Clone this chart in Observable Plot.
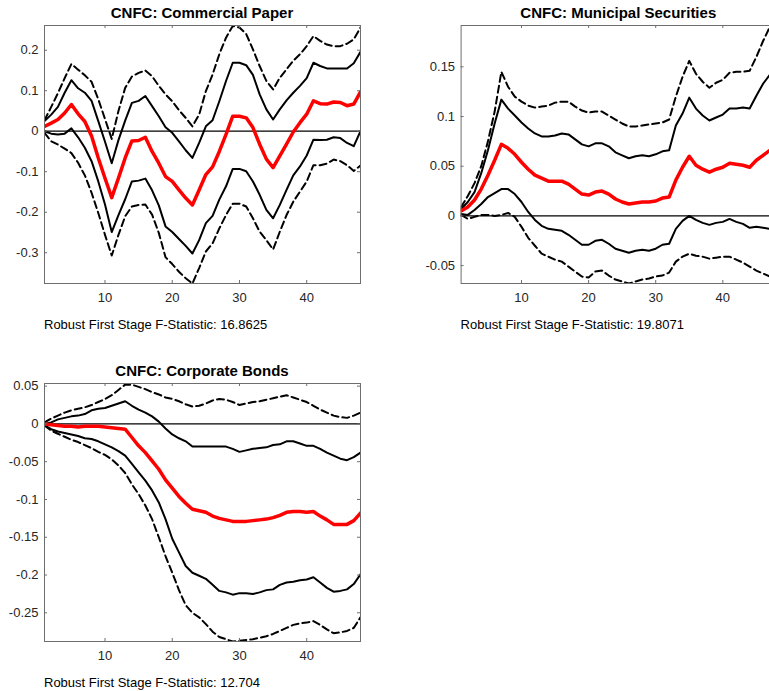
<!DOCTYPE html>
<html><head><meta charset="utf-8">
<script src="https://cdn.jsdelivr.net/npm/d3@7"></script>
<script src="https://cdn.jsdelivr.net/npm/@observablehq/plot@0.6"></script>
<style>
html,body{margin:0;padding:0;overflow:hidden;background:#fff;width:769px;height:691px;}
#root{position:relative;width:769px;height:691px;overflow:hidden;font-family:"Liberation Sans",Arial,Helvetica,sans-serif;background:#fff;}
.panel{position:absolute;}
.title{position:absolute;font-weight:bold;font-size:15px;color:#000;white-space:nowrap;transform:translateX(-50%);line-height:1;}
.cap{position:absolute;font-size:13px;color:#000;white-space:nowrap;line-height:1;}
</style></head><body><div id="root"></div>
<script>
const horizons = [1,2,3,4,5,6,7,8,9,10,11,12,13,14,15,16,17,18,19,20,21,22,23,24,25,26,27,28,29,30,31,32,33,34,35,36,37,38,39,40,41,42,43,44,45,46,47,48];
const xTicks = [10, 20, 30, 40];

// Panel 1: Commercial Paper
const cpTitle = "CNFC: Commercial Paper";
const cpCaption = "Robust First Stage F-Statistic: 16.8625";
const cpYTicks = [0.2, 0.1, 0, -0.1, -0.2, -0.3];
const cpMid = [0.012,0.02,0.029,0.045,0.066,0.043,0.024,-0.012,-0.066,-0.116,-0.164,-0.116,-0.066,-0.024,-0.023,-0.015,-0.05,-0.079,-0.112,-0.124,-0.145,-0.165,-0.182,-0.145,-0.107,-0.088,-0.05,-0.008,0.037,0.037,0.033,0.009,-0.032,-0.069,-0.09,-0.061,-0.032,-0.002,0.021,0.042,0.075,0.068,0.067,0.072,0.071,0.063,0.067,0.097];
const cpUp68 = [0.025,0.041,0.06,0.095,0.126,0.106,0.095,0.075,0.025,-0.026,-0.079,-0.022,0.026,0.07,0.075,0.087,0.062,0.037,0.01,-0.004,-0.025,-0.047,-0.066,-0.029,0.012,0.027,0.074,0.124,0.169,0.169,0.163,0.139,0.091,0.054,0.029,0.054,0.076,0.095,0.112,0.131,0.169,0.161,0.155,0.155,0.155,0.155,0.168,0.196];
const cpLo68 = [0,-0.006,-0.008,-0.006,0.007,-0.015,-0.041,-0.074,-0.124,-0.181,-0.249,-0.207,-0.168,-0.124,-0.122,-0.117,-0.146,-0.183,-0.235,-0.249,-0.266,-0.283,-0.302,-0.269,-0.227,-0.209,-0.169,-0.136,-0.093,-0.093,-0.099,-0.124,-0.157,-0.194,-0.215,-0.182,-0.145,-0.109,-0.087,-0.06,-0.021,-0.022,-0.021,-0.015,-0.017,-0.029,-0.037,0.0];
const cpUp90 = [0.027,0.06,0.094,0.131,0.166,0.152,0.138,0.122,0.079,0.03,-0.019,0.05,0.107,0.135,0.144,0.15,0.136,0.112,0.091,0.074,0.052,0.033,0.012,0.041,0.099,0.14,0.19,0.231,0.26,0.256,0.24,0.202,0.161,0.124,0.103,0.132,0.153,0.174,0.19,0.21,0.235,0.223,0.214,0.21,0.21,0.216,0.227,0.256];
const cpLo90 = [-0.004,-0.025,-0.033,-0.043,-0.054,-0.078,-0.109,-0.152,-0.202,-0.256,-0.307,-0.256,-0.21,-0.186,-0.182,-0.181,-0.206,-0.251,-0.311,-0.328,-0.347,-0.363,-0.376,-0.338,-0.297,-0.277,-0.24,-0.207,-0.179,-0.179,-0.186,-0.215,-0.248,-0.269,-0.292,-0.248,-0.207,-0.174,-0.149,-0.124,-0.084,-0.084,-0.08,-0.07,-0.074,-0.084,-0.098,-0.085];

// Panel 2: Municipal Securities
const msTitle = "CNFC: Municipal Securities";
const msCaption = "Robust First Stage F-Statistic: 19.8071";
const msYTicks = [0.15, 0.1, 0.05, 0, -0.05];
const msMid = [0.005,0.009,0.016,0.027,0.041,0.056,0.072,0.068,0.062,0.054,0.047,0.041,0.038,0.035,0.035,0.035,0.032,0.027,0.022,0.021,0.024,0.025,0.022,0.017,0.014,0.012,0.013,0.014,0.014,0.015,0.018,0.019,0.036,0.049,0.06,0.051,0.047,0.044,0.047,0.049,0.053,0.052,0.051,0.049,0.056,0.061,0.066,0.072];
const msUp68 = [0.007,0.014,0.024,0.043,0.066,0.093,0.117,0.108,0.101,0.094,0.088,0.083,0.08,0.08,0.081,0.083,0.082,0.077,0.072,0.07,0.073,0.073,0.07,0.064,0.061,0.058,0.06,0.061,0.06,0.062,0.065,0.066,0.091,0.103,0.119,0.108,0.101,0.096,0.099,0.102,0.108,0.108,0.109,0.108,0.121,0.133,0.142,0.152];
const msLo68 = [0.002,0.001,0.006,0.012,0.019,0.023,0.027,0.027,0.022,0.014,0.004,-0.004,-0.01,-0.013,-0.014,-0.015,-0.019,-0.024,-0.029,-0.029,-0.025,-0.024,-0.028,-0.033,-0.035,-0.037,-0.035,-0.034,-0.035,-0.033,-0.029,-0.028,-0.013,-0.005,0.0,-0.004,-0.007,-0.009,-0.007,-0.006,-0.003,-0.006,-0.008,-0.012,-0.011,-0.012,-0.013,-0.014];
const msUp90 = [0.009,0.02,0.033,0.05,0.075,0.105,0.145,0.13,0.12,0.115,0.111,0.109,0.11,0.111,0.114,0.115,0.115,0.11,0.106,0.104,0.105,0.105,0.101,0.097,0.093,0.09,0.09,0.091,0.092,0.093,0.094,0.097,0.12,0.14,0.156,0.143,0.135,0.129,0.134,0.137,0.144,0.145,0.145,0.146,0.16,0.176,0.19,0.2];
const msLo90 = [0.001,-0.003,-0.001,0.001,0.001,0.0,0.001,0.003,-0.001,-0.011,-0.022,-0.03,-0.038,-0.041,-0.044,-0.046,-0.051,-0.056,-0.061,-0.062,-0.056,-0.055,-0.06,-0.064,-0.066,-0.068,-0.066,-0.064,-0.063,-0.061,-0.06,-0.057,-0.046,-0.041,-0.038,-0.04,-0.041,-0.043,-0.042,-0.041,-0.041,-0.044,-0.047,-0.051,-0.055,-0.058,-0.061,-0.065];

// Panel 3: Corporate Bonds
const cbTitle = "CNFC: Corporate Bonds";
const cbCaption = "Robust First Stage F-Statistic: 12.704";
const cbYTicks = [0.05, 0, -0.05, -0.1, -0.15, -0.2, -0.25];
const cbMid = [0,-0.001,-0.002,-0.003,-0.003,-0.004,-0.003,-0.003,-0.003,-0.004,-0.005,-0.006,-0.007,-0.018,-0.029,-0.038,-0.049,-0.06,-0.074,-0.085,-0.096,-0.105,-0.113,-0.115,-0.117,-0.122,-0.125,-0.127,-0.129,-0.129,-0.129,-0.128,-0.127,-0.126,-0.124,-0.121,-0.117,-0.116,-0.116,-0.117,-0.116,-0.122,-0.127,-0.133,-0.133,-0.133,-0.128,-0.118];
const cbUp68 = [0,0.002,0.006,0.008,0.01,0.011,0.013,0.018,0.02,0.021,0.024,0.027,0.03,0.024,0.019,0.015,0.01,0.003,-0.006,-0.014,-0.019,-0.023,-0.03,-0.03,-0.03,-0.03,-0.03,-0.03,-0.033,-0.037,-0.035,-0.033,-0.032,-0.031,-0.028,-0.027,-0.023,-0.023,-0.026,-0.029,-0.029,-0.033,-0.038,-0.042,-0.046,-0.048,-0.044,-0.038];
const cbLo68 = [-0.002,-0.007,-0.01,-0.012,-0.014,-0.016,-0.019,-0.02,-0.023,-0.027,-0.031,-0.036,-0.042,-0.053,-0.064,-0.075,-0.088,-0.104,-0.126,-0.152,-0.17,-0.188,-0.197,-0.201,-0.205,-0.213,-0.221,-0.223,-0.226,-0.224,-0.224,-0.225,-0.223,-0.22,-0.219,-0.213,-0.21,-0.209,-0.207,-0.206,-0.203,-0.21,-0.217,-0.222,-0.221,-0.219,-0.212,-0.199];
const cbUp90 = [0.002,0.007,0.011,0.015,0.018,0.02,0.022,0.025,0.029,0.033,0.038,0.045,0.052,0.052,0.049,0.046,0.042,0.039,0.035,0.033,0.03,0.026,0.023,0.024,0.027,0.031,0.033,0.032,0.029,0.025,0.027,0.029,0.03,0.032,0.034,0.036,0.038,0.035,0.032,0.029,0.024,0.019,0.015,0.011,0.009,0.008,0.011,0.015];
const cbLo90 = [-0.002,-0.009,-0.013,-0.017,-0.021,-0.024,-0.028,-0.032,-0.037,-0.041,-0.047,-0.055,-0.065,-0.08,-0.093,-0.108,-0.126,-0.15,-0.175,-0.197,-0.22,-0.24,-0.25,-0.256,-0.265,-0.275,-0.282,-0.285,-0.288,-0.287,-0.286,-0.285,-0.283,-0.281,-0.278,-0.274,-0.27,-0.266,-0.264,-0.263,-0.261,-0.266,-0.272,-0.277,-0.276,-0.274,-0.27,-0.256];

const root = document.getElementById("root");
const fmt = d => String(d);
const axisColor = "#6e6e6e";

function rows(vals) { return horizons.map((h, i) => ({h, v: vals[i]})); }

function panel(cfg) {
  const innerW = cfg.width - cfg.mL - cfg.mR;
  const innerH = cfg.height - cfg.mT - cfg.mB;
  const lineOpts = {x: "h", y: "v", clip: true, strokeLinejoin: "round"};
  const chart = Plot.plot({
    width: cfg.width, height: cfg.height,
    marginLeft: cfg.mL, marginRight: cfg.mR, marginTop: cfg.mT, marginBottom: cfg.mB,
    style: {fontFamily: '"Liberation Sans", Arial, Helvetica, sans-serif', fontSize: "13px", color: "#262626", background: "transparent", overflow: "visible"},
    x: {domain: [1, 48], label: null, axis: null},
    y: {domain: cfg.yDomain, label: null, axis: null},
    marks: [
      Plot.ruleY([0], {stroke: "#000", strokeWidth: 1.2}),
      Plot.line(rows(cfg.up90), {...lineOpts, stroke: "#000", strokeWidth: 2, strokeDasharray: "7,4"}),
      Plot.line(rows(cfg.lo90), {...lineOpts, stroke: "#000", strokeWidth: 2, strokeDasharray: "7,4"}),
      Plot.line(rows(cfg.up68), {...lineOpts, stroke: "#000", strokeWidth: 2}),
      Plot.line(rows(cfg.lo68), {...lineOpts, stroke: "#000", strokeWidth: 2}),
      Plot.line(rows(cfg.mid), {...lineOpts, stroke: "#ff0000", strokeWidth: 3.5}),
      Plot.frame({stroke: axisColor, strokeWidth: 1}),
      Plot.ruleX(xTicks, {stroke: axisColor, insetTop: innerH - 3}),
      Plot.ruleX(xTicks, {stroke: axisColor, insetBottom: innerH - 3}),
      Plot.ruleY(cfg.yTicks, {stroke: axisColor, insetRight: innerW - 3}),
      Plot.ruleY(cfg.yTicks, {stroke: axisColor, insetLeft: innerW - 3}),
      Plot.axisX(xTicks, {tickSize: 0, tickPadding: 9, label: null, tickFormat: fmt, fill: "#262626"}),
      Plot.axisY(cfg.yTicks, {tickSize: 0, tickPadding: 6, label: null, tickFormat: fmt, fill: "#262626"})
    ]
  });
  chart.classList.add("panel");
  chart.style.left = cfg.left + "px";
  chart.style.top = cfg.top + "px";
  root.appendChild(chart);

  const t = document.createElement("div");
  t.className = "title";
  t.textContent = cfg.title;
  t.style.left = (cfg.left + cfg.mL + innerW / 2) + "px";
  t.style.top = (cfg.top + cfg.mT - 20) + "px";
  root.appendChild(t);

  const c = document.createElement("div");
  c.className = "cap";
  c.textContent = cfg.caption;
  c.style.left = (cfg.left + cfg.mL) + "px";
  c.style.top = (cfg.top + cfg.mT + innerH + 35) + "px";
  root.appendChild(c);
}

panel({left: 0, top: 0, width: 372, height: 312, mL: 44, mR: 12, mT: 25, mB: 29,
  yDomain: [-0.376, 0.261], yTicks: cpYTicks, title: cpTitle, caption: cpCaption,
  mid: cpMid, up68: cpUp68, lo68: cpLo68, up90: cpUp90, lo90: cpLo90});
panel({left: 400, top: 0, width: 400, height: 312, mL: 60.6, mR: 24, mT: 25, mB: 29,
  yDomain: [-0.068, 0.1916], yTicks: msYTicks, title: msTitle, caption: msCaption,
  mid: msMid, up68: msUp68, lo68: msLo68, up90: msUp90, lo90: msLo90});
panel({left: 0, top: 355, width: 372, height: 312, mL: 44, mR: 12, mT: 28, mB: 26,
  yDomain: [-0.288, 0.0535], yTicks: cbYTicks, title: cbTitle, caption: cbCaption,
  mid: cbMid, up68: cbUp68, lo68: cbLo68, up90: cbUp90, lo90: cbLo90});
</script></body></html>
